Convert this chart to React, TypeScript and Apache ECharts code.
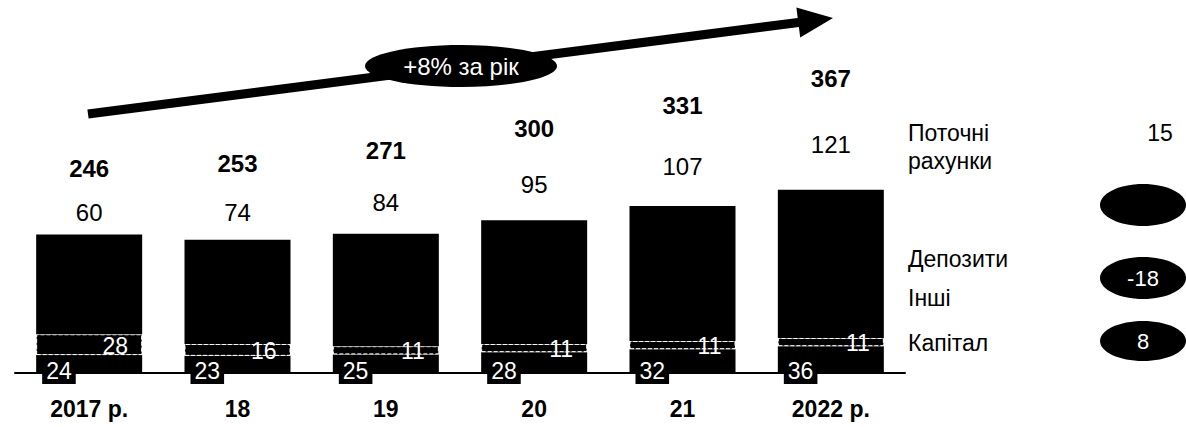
import React, { useEffect, useRef } from "react";
import * as echarts from "echarts";

const categories = ["2017 р.", "18", "19", "20", "21", "2022 р."];
const kapital = [24, 23, 25, 28, 32, 36];
const inshi = [28, 16, 11, 11, 11, 11];
const depozyty = [134, 140, 151, 166, 181, 199];
const potochni = [60, 74, 84, 95, 107, 121];
const totals = [246, 253, 271, 300, 331, 367];

const FONT = '"Liberation Sans", Arial, sans-serif';

export default function App() {
  const ref = useRef<HTMLDivElement>(null);
  useEffect(() => {
    if (!ref.current) return;
    const chart = echarts.init(ref.current, null, { renderer: "svg" });
    const arrowPts = [
      [87.4, 109.5], [797.7, 18.0], [796.4, 7.6], [833, 18], [800.2, 37.4], [798.9, 27.0], [88.6, 118.5],
    ];
    const txt = (text: string, x: number, y: number, opts: any = {}) => ({
      type: "text",
      style: {
        text, x, y, fill: opts.fill || "#000",
        font: `${opts.weight || "normal"} ${opts.size || 23}px ${FONT}`,
        align: opts.align || "left", verticalAlign: "middle",
      },
      z: 100,
    });
    const ell = (cx: number, cy: number, rx: number, ry: number) => ({
      type: "ellipse", shape: { cx, cy, rx, ry }, style: { fill: "#000" }, z: 90,
    });
    chart.setOption({
      animation: false,
      grid: { left: 15, right: 281, top: 75, bottom: 54, containLabel: false },
      xAxis: {
        type: "category",
        data: categories,
        axisLine: { lineStyle: { color: "#000", width: 2 } },
        axisTick: { show: false },
        axisLabel: { color: "#000", fontWeight: "bold", fontSize: 23, fontFamily: FONT, margin: 24 },
      },
      yAxis: { type: "value", min: 0, max: 400, show: false, splitLine: { show: false } },
      series: [
        {
          name: "Капітал", type: "bar", stack: "s", barWidth: 106, data: kapital,
          itemStyle: { color: "#000" },
          label: {
            show: true, position: [6, "100%"], align: "left", verticalAlign: "middle", offset: [0, -2],
            color: "#fff", backgroundColor: "#000", padding: [2, 4, 1, 4], fontSize: 23, fontFamily: FONT,
          },
        },
        {
          name: "Інші", type: "bar", stack: "s", data: inshi,
          itemStyle: { color: "#000", borderColor: "#fff", borderWidth: 1, borderType: "dashed" },
          label: {
            show: true, position: ["100%", "50%"], align: "right", verticalAlign: "middle", offset: [-14, 1],
            color: "#fff", fontSize: 23, fontFamily: FONT,
          },
        },
        {
          name: "Депозити", type: "bar", stack: "s", data: depozyty,
          itemStyle: { color: "#000" },
        },
        {
          name: "Поточні рахунки", type: "bar", stack: "s", data: potochni,
          itemStyle: { color: "rgba(0,0,0,0)" },
          label: { show: true, position: "inside", color: "#000", fontSize: 24, fontFamily: FONT },
        },
        {
          name: "Разом", type: "bar", stack: "s", data: totals.map(() => 0),
          itemStyle: { color: "rgba(0,0,0,0)" },
          label: {
            show: true, position: "top", distance: 9, color: "#000", fontWeight: "bold", fontSize: 24,
            fontFamily: FONT, formatter: (p: any) => String(totals[p.dataIndex]),
          },
        },
      ],
      graphic: [
        { type: "polygon", shape: { points: arrowPts }, style: { fill: "#000" }, z: 80 },
        ell(461, 66, 96, 21),
        txt("+8% за рік", 461, 66, { fill: "#fff", align: "center", size: 24 }),
        txt("Поточні", 908, 133),
        txt("рахунки", 908, 161),
        txt("Депозити", 908, 259),
        txt("Інші", 908, 298),
        txt("Капітал", 908, 343),
        txt("15", 1160, 133, { align: "center" }),
        ell(1143, 205, 43, 21),
        ell(1143, 278, 43, 21),
        txt("-18", 1143, 278, { fill: "#fff", align: "center", size: 22 }),
        ell(1143, 341, 43, 20),
        txt("8", 1143, 341, { fill: "#fff", align: "center", size: 22 }),
      ],
    });
    return () => chart.dispose();
  }, []);
  return (
    <div
      ref={ref}
      style={{ position: "absolute", left: 0, top: 0, width: 1186, height: 427, background: "#fff" }}
    />
  );
}
